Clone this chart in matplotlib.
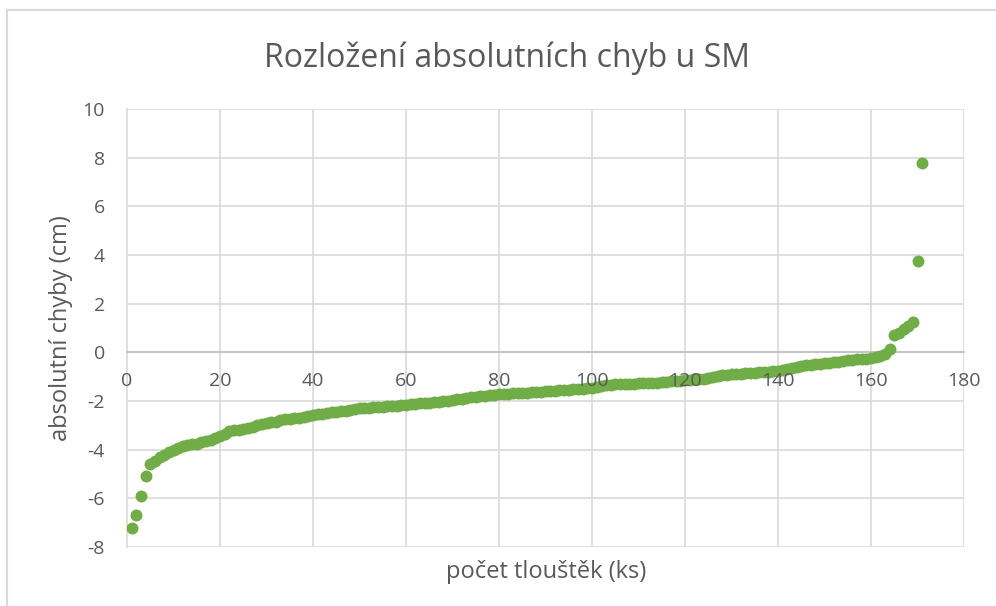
import numpy as np
import matplotlib
matplotlib.use("Agg")
import matplotlib.pyplot as plt
from matplotlib.lines import Line2D

# sorted absolute errors (cm)
errors = [
    -7.2, -6.7, -5.9, -5.1, -4.6, -4.45, -4.3, -4.2, -4.1, -4.0,
    -3.95, -3.85, -3.8, -3.78, -3.75, -3.7, -3.65, -3.6, -3.5, -3.45,
    -3.35, -3.25, -3.2, -3.18, -3.15, -3.1, -3.05, -3.0, -2.95, -2.9,
    -2.88, -2.85, -2.8, -2.75, -2.72, -2.7, -2.68, -2.65, -2.6, -2.57,
    -2.55, -2.52, -2.5, -2.47, -2.45, -2.42, -2.4, -2.37, -2.33, -2.3,
    -2.29, -2.27, -2.26, -2.25, -2.23, -2.22, -2.2, -2.19, -2.17, -2.15,
    -2.13, -2.12, -2.1, -2.08, -2.07, -2.05, -2.03, -2.0, -1.98, -1.95,
    -1.92, -1.9, -1.88, -1.85, -1.83, -1.8, -1.78, -1.76, -1.74, -1.72,
    -1.71, -1.7, -1.69, -1.68, -1.67, -1.66, -1.65, -1.63, -1.62, -1.6,
    -1.59, -1.58, -1.56, -1.55, -1.54, -1.52, -1.5, -1.49, -1.47, -1.45,
    -1.42, -1.38, -1.35, -1.33, -1.32, -1.31, -1.3, -1.3, -1.29, -1.28,
    -1.27, -1.26, -1.25, -1.24, -1.22, -1.2, -1.19, -1.18, -1.16, -1.15,
    -1.13, -1.11, -1.1, -1.08, -1.05, -1.02, -0.98, -0.95, -0.92, -0.9,
    -0.88, -0.87, -0.85, -0.84, -0.83, -0.82, -0.8, -0.79, -0.77, -0.75,
    -0.72, -0.68, -0.63, -0.6, -0.55, -0.52, -0.5, -0.48, -0.47, -0.45,
    -0.42, -0.4, -0.38, -0.35, -0.32, -0.3, -0.29, -0.28, -0.27, -0.25,
    -0.2, -0.15, -0.05, 0.15,
    0.7, 0.8, 0.95, 1.1, 1.25,
    3.75, 7.8,
]
counts = np.arange(1, len(errors) + 1)

x_ticks = [0, 20, 40, 60, 80, 100, 120, 140, 160, 180]
y_ticks = [-8, -6, -4, -2, 0, 2, 4, 6, 8, 10]

title = "Rozložení absolutních chyb u SM"
x_label = "počet tlouštěk (ks)"
y_label = "absolutní chyby (cm)"

plt.rcParams['font.family'] = ['Open Sans', 'DejaVu Sans']
plt.rcParams['axes.unicode_minus'] = False
text_col = '#595959'
grid_col = '#d9d9d9'

fig = plt.figure(figsize=(9.96, 6.06), dpi=100)
ax = fig.add_axes([127 / 996, 1 - 547 / 606, (964 - 127) / 996, (547 - 109) / 606])

# gridlines drawn by hand so tick labels can sit above the markers
for xv in x_ticks[1:]:
    ax.axvline(xv, color=grid_col, linewidth=1.2, zorder=0.5)
for yv in y_ticks:
    ax.axhline(yv, color=grid_col, linewidth=1.2, zorder=0.5)

ax.scatter(counts, errors, s=74, color='#70ad47', zorder=2, linewidths=0)

ax.set_xlim(0, 180)
ax.set_ylim(-8, 10)
ax.set_xticks(x_ticks)
ax.set_yticks(y_ticks)
ax.set_axisbelow(False)

for s in ['top', 'right']:
    ax.spines[s].set_visible(False)
ax.spines['left'].set_color(grid_col)
ax.spines['left'].set_linewidth(1.2)
ax.spines['left'].set_zorder(0.6)
ax.spines['bottom'].set_position(('data', 0))
ax.spines['bottom'].set_color('#bfbfbf')
ax.spines['bottom'].set_linewidth(1.2)
ax.spines['bottom'].set_zorder(0.6)
ax.tick_params(length=0, labelsize=14, colors=text_col)
ax.tick_params(axis='y', pad=16)
ax.tick_params(axis='x', pad=14)

fig.text(507 / 996, 1 - 58 / 606, title, ha='center', va='center', fontsize=23, color=text_col)
fig.text(546 / 996, 1 - 572 / 606, x_label, ha='center', va='center', fontsize=17, color=text_col)
fig.text(61 / 996, 1 - 328 / 606, y_label, ha='center', va='center', rotation=90, fontsize=17, color=text_col)

# chart area border (left and top edges visible)
fig.lines.append(Line2D([7 / 996, 7 / 996], [0, 1 - 10 / 606], transform=fig.transFigure,
                        color=grid_col, linewidth=1.5))
fig.lines.append(Line2D([7 / 996, 1], [1 - 10 / 606, 1 - 10 / 606], transform=fig.transFigure,
                        color=grid_col, linewidth=1.5))

fig.savefig("out.png", dpi=100)
